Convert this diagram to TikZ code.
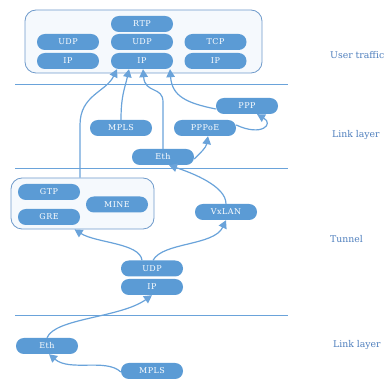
\documentclass[tikz,border=0pt]{standalone}
\usepackage{fontspec}
\setmainfont{DejaVu Serif}
\newfontfamily\nodefont[LetterSpace=6]{DejaVu Serif}
\usetikzlibrary{arrows.meta}
\definecolor{nodeblue}{HTML}{5B9BD5}
\definecolor{lineblue}{HTML}{6AA3DA}
\definecolor{boxedge}{HTML}{6E9ACB}
\definecolor{boxfill}{HTML}{F5F9FD}
\definecolor{labelblue}{HTML}{4F7FBD}
\tikzset{
  pill/.style={fill=nodeblue, draw=none, rounded corners=7.8pt, minimum width=62pt, minimum height=16pt,
    inner sep=0pt, text=white, font=\nodefont\fontsize{8}{9}\selectfont},
  groupbox/.style={draw=boxedge, fill=boxfill, line width=0.8pt, rounded corners=11pt, inner sep=0pt},
  layerline/.style={draw=lineblue, line width=1pt},
  conn/.style={draw=lineblue, line width=1.2pt, -{Triangle[width=8.5pt,length=8pt]}},
  layerlabel/.style={anchor=west, text=labelblue, font=\fontsize{9.3}{11}\selectfont, inner sep=0pt}
}
\begin{document}
\begin{tikzpicture}[x=1pt,y=-1pt]
\useasboundingbox (0,0) rectangle (384,379);
% containers
\node[groupbox, minimum width=237pt, minimum height=63pt] (topbox) at (143.5,41.5) {};
\node[groupbox, minimum width=143pt, minimum height=51pt] (tunbox) at (82.5,203.5) {};
% layer lines
\coordinate (l1a) at (15,85); \coordinate (l1b) at (288,85);
\coordinate (l2a) at (15,169); \coordinate (l2b) at (288,169);
\coordinate (l3a) at (15,316); \coordinate (l3b) at (288,316);
\draw[layerline] (l1a) -- (l1b);
\draw[layerline] (l2a) -- (l2b);
\draw[layerline] (l3a) -- (l3b);
% top nodes
\node[pill] (rtp) at (142,24) {RTP};
\node[pill] (udpm) at (142,42) {UDP};
\node[pill] (ipm) at (142,61) {IP};
\node[pill] (udpl) at (68,42) {UDP};
\node[pill] (ipl) at (68,61) {IP};
\node[pill] (tcp) at (215.5,42) {TCP};
\node[pill] (ipr) at (215.5,61) {IP};
% link layer
\node[pill] (ppp) at (247,106) {PPP};
\node[pill] (mpls) at (121,128) {MPLS};
\node[pill] (pppoe) at (205,128) {PPPoE};
\node[pill] (eth) at (163,157) {Eth};
% tunnel
\node[pill] (gtp) at (49,192) {GTP};
\node[pill] (gre) at (49,217) {GRE};
\node[pill] (mine) at (117,204.5) {MINE};
\node[pill] (vxlan) at (226,212) {VxLAN};
\node[pill] (udpb) at (152,268.5) {UDP};
\node[pill] (ipb) at (152,287) {IP};
% bottom link layer
\node[pill] (ethb) at (47,346) {Eth};
\node[pill] (mplsb) at (152,371) {MPLS};
% labels
\node[layerlabel] (lab1) at (330,55) {User traffic};
\node[layerlabel] (lab2) at (332,135) {Link layer};
\node[layerlabel] (lab3) at (330,239) {Tunnel};
\node[layerlabel] (lab4) at (333,345) {Link layer};
% connectors
\draw[conn] ([xshift=-2.5pt]tunbox.north) -- (80,125) .. controls (80,95) and (106,92) .. ([xshift=-25pt]ipm.south);
\draw[conn] (mpls.north) .. controls (121,95) and (125,88) .. ([xshift=-13pt]ipm.south);
\draw[conn] (eth.north) -- (163,102) .. controls (163,86) and (145,94) .. ([xshift=1pt]ipm.south);
\draw[conn] ([yshift=-3pt]ppp.west) .. controls (186,103) and (172,96) .. ([xshift=28pt]ipm.south);
\draw[conn] ([yshift=-2pt]eth.east) .. controls (201,152) and (206,148) .. ([xshift=3pt]pppoe.south);
\draw[conn] ([yshift=3pt]pppoe.east) .. controls (262,137) and (274,124) .. ([xshift=10pt]ppp.south);
\draw[conn] (vxlan.north) .. controls (226,186) and (192,173) .. ([xshift=6pt]eth.south);
\draw[conn] ([xshift=-10pt]udpb.north) .. controls (140,243) and (96,243) .. ([xshift=-8pt]tunbox.south);
\draw[conn] ([xshift=1pt]udpb.north) .. controls (163,242) and (214,246) .. (vxlan.south);
\draw[conn] (ethb.north) .. controls (55,318) and (120,318) .. (ipb.south);
\draw[conn] ([yshift=-1pt]mplsb.west) .. controls (106,358) and (70,372) .. ([xshift=2pt]ethb.south);
\end{tikzpicture}
\end{document}
